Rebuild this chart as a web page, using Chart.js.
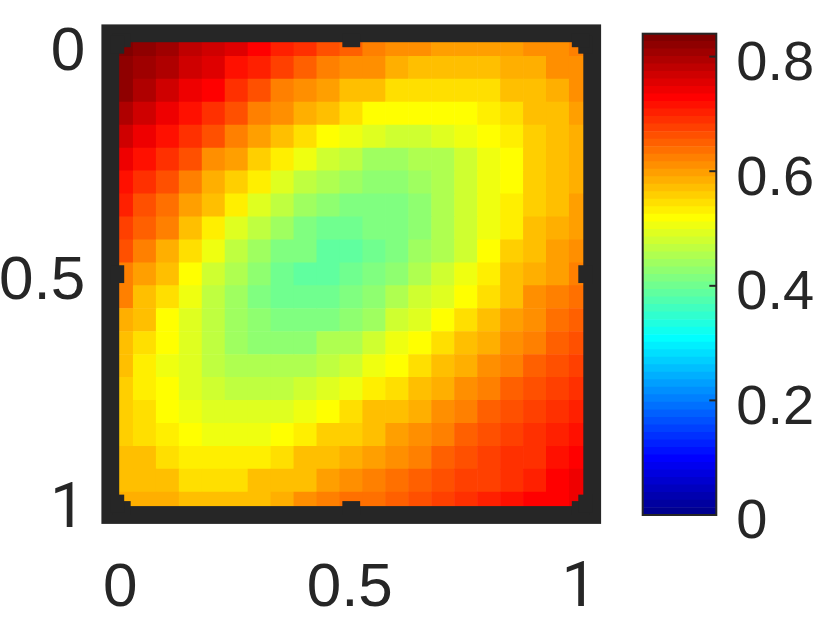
<!DOCTYPE html>
<html>
<head>
<meta charset="utf-8">
<title>Heatmap</title>
<script src="https://cdn.jsdelivr.net/npm/chart.js@4"></script>
<style>
  html, body { margin: 0; padding: 0; background: #fff; }
  #wrap { position: relative; width: 830px; height: 625px; overflow: hidden; }
  canvas { position: absolute; top: 0; }
  #heat { left: 0; }
  #bar { left: 620px; }
</style>
</head>
<body>
<div id="wrap">
  <canvas id="heat" width="620" height="625"></canvas>
  <canvas id="bar" width="210" height="625"></canvas>
</div>
<script>
var gridPositions = [0, 0.05, 0.1, 0.15, 0.2, 0.25, 0.3, 0.35, 0.4, 0.45, 0.5, 0.55, 0.6, 0.65, 0.7, 0.75, 0.8, 0.85, 0.9, 0.95, 1];
var axisTicks = [0, 0.5, 1];
var axisLabels = ['0', '0.5', '1'];
var barTicks = [0, 0.2, 0.4, 0.6, 0.8];
var barLabels = ['0', '0.2', '0.4', '0.6', '0.8'];
var barMax = 0.84;
var barLevels = 64;

// one row per y position, top to bottom
var gridValues = [
  [.84, .823, .814, .794, .777, .761, .735, .708, .695, .667, .655, .63, .617, .617, .604, .604, .604, .604, .617, .617, .625],
  [.832, .814, .807, .777, .761, .722, .715, .683, .656, .624, .62, .611, .597, .584, .584, .584, .584, .597, .597, .611, .62],
  [.823, .807, .777, .754, .735, .695, .67, .636, .617, .604, .584, .571, .557, .557, .557, .557, .557, .571, .584, .597, .611],
  [.807, .777, .749, .722, .695, .67, .636, .617, .59, .571, .551, .525, .525, .525, .525, .525, .542, .555, .571, .584, .607],
  [.777, .754, .722, .695, .67, .63, .604, .577, .557, .525, .513, .5, .48, .48, .494, .506, .525, .542, .564, .584, .597],
  [.749, .722, .695, .67, .62, .604, .564, .537, .513, .48, .468, .447, .447, .461, .461, .48, .506, .525, .564, .584, .597],
  [.722, .695, .67, .63, .597, .564, .537, .494, .475, .455, .441, .434, .434, .447, .455, .48, .506, .525, .564, .584, .597],
  [.708, .67, .643, .604, .571, .542, .494, .468, .447, .434, .42, .42, .42, .434, .455, .48, .506, .542, .564, .584, .607],
  [.683, .65, .624, .584, .542, .5, .468, .447, .42, .407, .407, .414, .42, .434, .455, .48, .506, .542, .571, .59, .607],
  [.663, .624, .597, .557, .506, .468, .441, .414, .414, .394, .394, .407, .414, .441, .461, .487, .525, .564, .577, .604, .62],
  [.636, .607, .571, .525, .48, .455, .434, .407, .394, .394, .407, .42, .428, .455, .48, .506, .542, .571, .597, .607, .63],
  [.624, .584, .551, .513, .475, .447, .42, .407, .407, .407, .42, .434, .455, .48, .494, .525, .557, .584, .611, .63, .646],
  [.597, .571, .525, .5, .475, .447, .428, .414, .414, .414, .428, .447, .487, .5, .525, .557, .584, .607, .617, .643, .66],
  [.577, .557, .525, .5, .475, .447, .434, .434, .434, .455, .461, .487, .506, .525, .557, .577, .59, .62, .63, .656, .67],
  [.584, .542, .513, .5, .475, .455, .455, .455, .455, .475, .48, .506, .525, .557, .577, .59, .62, .63, .656, .67, .683],
  [.564, .542, .525, .5, .487, .468, .468, .468, .487, .5, .51, .542, .557, .584, .597, .617, .63, .656, .67, .683, .695],
  [.564, .557, .525, .513, .494, .494, .494, .494, .513, .525, .545, .571, .584, .59, .617, .63, .66, .67, .683, .695, .708],
  [.564, .557, .542, .525, .506, .506, .506, .525, .542, .564, .567, .577, .604, .617, .63, .66, .673, .683, .695, .708, .722],
  [.577, .571, .557, .542, .542, .542, .542, .557, .571, .584, .594, .604, .617, .63, .656, .67, .683, .695, .702, .718, .735],
  [.584, .571, .571, .551, .551, .551, .571, .571, .584, .604, .614, .63, .643, .656, .67, .683, .689, .702, .715, .735, .749],
  [.597, .59, .59, .571, .571, .584, .584, .597, .617, .636, .643, .643, .66, .67, .686, .695, .715, .722, .735, .735, .754]
];

var inkColor = '#262626';
var axisFont = { family: '"Liberation Sans", Arial, sans-serif', size: 62 };
var barFont = { family: '"Liberation Sans", Arial, sans-serif', size: 56 };
// liberation's 1 has a foot, the reference's does not
var oneFont = { family: 'Roboto, sans-serif', size: 63 };

function axisTickFont(c) {
  return c.tick && c.tick.value === 1 ? oneFont : axisFont;
}

function clamp01(v) {
  return Math.max(0, Math.min(1, v));
}

// matlab jet, level is 1..barLevels
function jetLevel(level) {
  var t = level / barLevels;
  var r = clamp01(Math.min(4 * t - 1.5, -4 * t + 4.5));
  var g = clamp01(Math.min(4 * t - 0.5, -4 * t + 3.5));
  var b = clamp01(Math.min(4 * t + 0.5, -4 * t + 2.5));
  return 'rgb(' + Math.round(r * 255) + ',' + Math.round(g * 255) + ',' + Math.round(b * 255) + ')';
}

function jetValue(v) {
  var level = Math.round(v / barMax * barLevels);
  return jetLevel(Math.max(1, Math.min(barLevels, level)));
}

var heatPoints = [];
gridValues.forEach(function (row, r) {
  row.forEach(function (value, c) {
    heatPoints.push({ x: gridPositions[c], y: gridPositions[r], v: value });
  });
});

function fixedTicks(values) {
  return function (scale) {
    scale.ticks = values.map(function (v) { return { value: v }; });
  };
}

function labelFor(values, labels) {
  return function (value) {
    return labels[values.indexOf(value)];
  };
}

// labels hang over the plot edge, keep the plot box where it is
function pinScale(width, height) {
  return function (s) {
    if (width) s.width = width;
    if (height) s.height = height;
    s.paddingLeft = s.paddingRight = s.paddingTop = s.paddingBottom = 0;
  };
}

// thick matlab box with inward ticks, drawn over the cells
var heatFrame = {
  id: 'heatFrame',
  afterDatasetsDraw: function (chart) {
    var ctx = chart.ctx, area = chart.chartArea, lw = 17.8, len = 5;
    var half = lw / 2;
    ctx.save();
    ctx.strokeStyle = inkColor;
    ctx.fillStyle = inkColor;
    ctx.lineWidth = lw;
    ctx.strokeRect(area.left, area.top, area.right - area.left, area.bottom - area.top);
    axisTicks.forEach(function (t) {
      var px = chart.scales.x.getPixelForValue(t);
      var py = chart.scales.y.getPixelForValue(t);
      ctx.fillRect(px - half, area.top, lw, half + len);
      ctx.fillRect(px - half, area.bottom - half - len, lw, half + len);
      ctx.fillRect(area.left, py - half, half + len, lw);
      ctx.fillRect(area.right - half - len, py - half, half + len, lw);
    });
    ctx.restore();
  }
};

var barFrame = {
  id: 'barFrame',
  afterDatasetsDraw: function (chart) {
    var ctx = chart.ctx, area = chart.chartArea;
    ctx.save();
    ctx.strokeStyle = inkColor;
    ctx.lineWidth = 2;
    ctx.strokeRect(area.left, area.top, area.right - area.left, area.bottom - area.top);
    barTicks.forEach(function (t) {
      var py = chart.scales.y.getPixelForValue(t);
      ctx.beginPath();
      ctx.moveTo(area.right, py);
      ctx.lineTo(area.right - 7, py);
      ctx.stroke();
    });
    ctx.restore();
  }
};

new Chart(document.getElementById('heat').getContext('2d'), {
  type: 'scatter',
  data: {
    datasets: [{
      data: heatPoints,
      pointStyle: 'rect',
      borderWidth: 0,
      pointBorderWidth: 0,
      pointRadius: function (c) {
        var s = c.chart.scales.x;
        return (s.getPixelForValue(0.05) - s.getPixelForValue(0) + 0.6) * Math.SQRT1_2;
      },
      backgroundColor: function (c) {
        return c.raw ? jetValue(c.raw.v) : '#000';
      }
    }]
  },
  options: {
    responsive: false,
    animation: false,
    events: [],
    layout: { padding: { top: 33.3, right: 27.8, left: 0, bottom: 0 } },
    plugins: { legend: { display: false }, tooltip: { enabled: false } },
    scales: {
      x: {
        type: 'linear',
        min: -0.025,
        max: 1.025,
        grid: { display: false },
        border: { display: false },
        afterBuildTicks: fixedTicks(axisTicks),
        afterFit: pinScale(0, 110),
        ticks: {
          font: axisTickFont,
          color: inkColor,
          padding: 29,
          labelOffset: -1.5,
          maxRotation: 0,
          autoSkip: false,
          callback: labelFor(axisTicks, axisLabels)
        }
      },
      y: {
        type: 'linear',
        reverse: true,
        min: -0.025,
        max: 1.025,
        grid: { display: false },
        border: { display: false },
        afterBuildTicks: fixedTicks(axisTicks),
        afterFit: pinScale(110.3, 0),
        ticks: {
          font: axisTickFont,
          color: inkColor,
          padding: 17,
          labelOffset: 8,
          autoSkip: false,
          callback: labelFor(axisTicks, axisLabels)
        }
      }
    }
  },
  plugins: [heatFrame]
});

var barDatasets = [];
for (var i = 1; i <= barLevels; i++) {
  barDatasets.push({
    data: [[(i - 1) / barLevels * barMax, i / barLevels * barMax]],
    backgroundColor: jetLevel(i),
    borderWidth: 0,
    barPercentage: 1,
    categoryPercentage: 1,
    grouped: false
  });
}

new Chart(document.getElementById('bar').getContext('2d'), {
  type: 'bar',
  data: { labels: ['bar'], datasets: barDatasets },
  options: {
    responsive: false,
    animation: false,
    events: [],
    layout: { padding: { top: 33.7, left: 22.7, right: 0, bottom: 110 } },
    plugins: { legend: { display: false }, tooltip: { enabled: false } },
    scales: {
      x: { display: false, grid: { display: false } },
      y: {
        position: 'right',
        min: 0,
        max: barMax,
        grid: { display: false },
        border: { display: false },
        afterBuildTicks: fixedTicks(barTicks),
        afterFit: pinScale(113.7, 0),
        ticks: {
          font: barFont,
          color: inkColor,
          padding: 12,
          labelOffset: 8,
          autoSkip: false,
          callback: labelFor(barTicks, barLabels)
        }
      }
    }
  },
  plugins: [barFrame]
});
</script>
</body>
</html>
